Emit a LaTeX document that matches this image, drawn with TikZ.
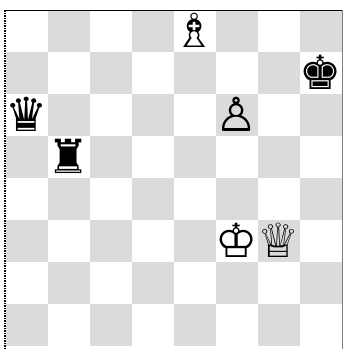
\documentclass[tikz,border=0pt]{standalone}
\usepackage{fontspec}
\newfontfamily\chess{DejaVu Sans}
\begin{document}
\begin{tikzpicture}[x=1pt,y=-1pt,
  darksq/.style={fill=black!14},
  piece/.style={font=\chess\fontsize{47}{47}\selectfont, inner sep=0pt, text=black}]
\useasboundingbox (0,0) rectangle (345,349);
\fill[white] (0,0) rectangle (345,349);
% dark squares
\foreach \f in {0,...,7}{
  \foreach \r in {0,...,7}{
    \pgfmathtruncatemacro{\s}{mod(\f+\r,2)}
    \ifnum\s=1
      \fill[darksq] ({6+42*\f},{10+42*\r}) rectangle ++(42,42);
    \fi
  }
}
\draw[line width=0.8pt] (6,10) -- (342,10);
\draw[line width=0.5pt, black!50] (342,10) -- (342,349);
\draw[line width=2pt, dash pattern=on 1.5pt off 1pt] (5,349) -- (5,9);
% pieces
\node[piece] (wb) at ({6+42*4+21},{10+42*0+20}) {♗};
\node[piece] (bk) at ({6+42*7+21},{10+42*1+20}) {♚};
\node[piece] (bq) at ({6+42*0+21},{10+42*2+20}) {♛};
\node[piece] (wp) at ({6+42*5+21},{10+42*2+20}) {♙};
\node[piece] (br) at ({6+42*1+21},{10+42*3+20}) {♜};
\node[piece] (wk) at ({6+42*5+21},{10+42*5+20}) {♔};
\node[piece] (wq) at ({6+42*6+21},{10+42*5+20}) {♕};
\end{tikzpicture}
\end{document}
